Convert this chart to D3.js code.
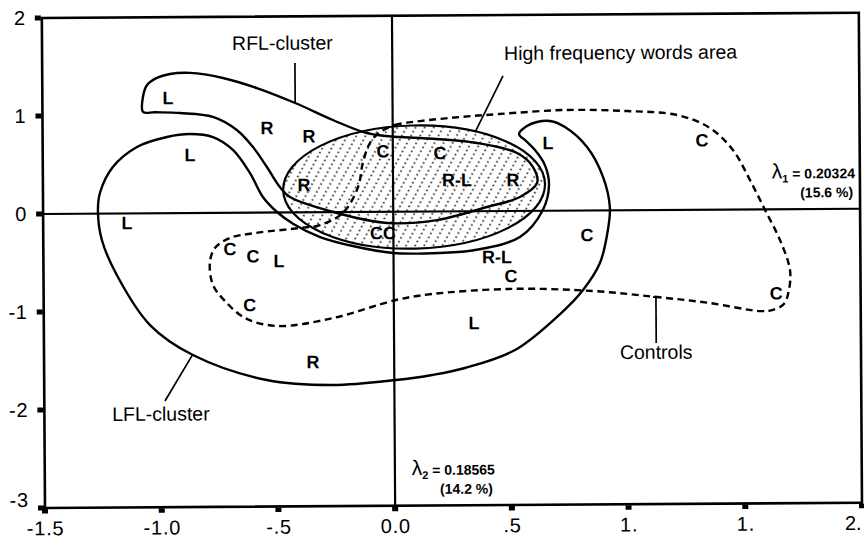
<!DOCTYPE html>
<html>
<head>
<meta charset="utf-8">
<script src="https://cdnjs.cloudflare.com/ajax/libs/d3/7.8.5/d3.min.js"></script>
<style>
  body { margin: 0; background: #fff; }
  svg { display: block; }
  text { font-family: "Liberation Sans", Arial, Helvetica, sans-serif; fill: #000; }
</style>
</head>
<body>
<svg id="chart" width="864" height="538"></svg>
<script>
// ---- axes ----
var xTicks = [-1.5, -1.0, -0.5, 0.0, 0.5, 1.0, 1.5, 2.0];
var xTickLabels = ['-1.5', '-1.0', '-.5', '0.0', '.5', '1.', '1.', '2.'];
var yTicks = [2, 1, 0, -1, -2, -3];
var yTickLabels = ['2', '1', '0', '-1', '-2', '-3'];

// ---- subject points (category letter, dim 1, dim 2) ----
var pointLabels = ['L', 'R', 'R', 'L', 'R', 'C', 'C', 'R-L', 'R', 'L', 'C', 'L',
                   'C', 'C', 'L', 'CC', 'R-L', 'C', 'C', 'C', 'L', 'R', 'C'];
var pointX = [-0.962, -0.539, -0.359, -0.869, -0.382, -0.042, 0.202, 0.274, 0.514, 0.665, 1.325, -1.141,
              -0.700, -0.602, -0.491, -0.045, 0.443, 0.503, 0.829, -0.617, 0.343, -0.348, 1.638];
var pointY = [1.176, 0.863, 0.778, 0.592, 0.279, 0.620, 0.596, 0.320, 0.316, 0.691, 0.711, -0.097,
              -0.369, -0.443, -0.495, -0.216, -0.468, -0.663, -0.250, -0.942, -1.141, -1.528, -0.855];

// ---- cluster outlines (hand traced, in axis units) ----
var rflContour = [
  [-1.069, 1.035], [-1.069, 1.188], [-1.051, 1.309], [-1.009, 1.381], [-0.953, 1.420], [-0.867, 1.430],
  [-0.726, 1.376], [-0.581, 1.271], [-0.417, 1.116], [-0.256, 0.940], [-0.125, 0.815], [-0.030, 0.773],
  [0.117, 0.751], [0.361, 0.696], [0.532, 0.591], [0.600, 0.447], [0.617, 0.284], [0.543, 0.142],
  [0.402, 0.042], [0.187, -0.088], [-0.027, -0.114], [-0.241, -0.009], [-0.442, 0.157], [-0.485, 0.260],
  [-0.540, 0.465], [-0.599, 0.669], [-0.668, 0.844], [-0.770, 0.979], [-0.911, 1.021], [-1.018, 1.031]
];
var lflContour = [
  [0.541, 0.785], [0.575, 0.866], [0.618, 0.906], [0.674, 0.915], [0.738, 0.853], [0.832, 0.648],
  [0.900, 0.340], [0.928, 0.034], [0.919, -0.201], [0.884, -0.537], [0.811, -0.811], [0.712, -1.055],
  [0.518, -1.419], [0.303, -1.599], [0.162, -1.668], [0.007, -1.717], [-0.263, -1.764], [-0.546, -1.709],
  [-0.862, -1.449], [-1.045, -1.140], [-1.186, -0.627], [-1.249, -0.269], [-1.265, 0.017], [-1.256, 0.211],
  [-1.200, 0.475], [-1.096, 0.678], [-0.967, 0.778], [-0.869, 0.806], [-0.770, 0.774], [-0.685, 0.641],
  [-0.613, 0.405], [-0.558, 0.159], [-0.498, 0.005], [-0.428, -0.118], [-0.314, -0.253], [-0.174, -0.347],
  [-0.002, -0.421], [0.199, -0.424], [0.349, -0.396], [0.542, -0.266], [0.641, 0.008], [0.668, 0.262],
  [0.651, 0.466], [0.609, 0.620], [0.571, 0.713]
];
var controlsContour = [
  [-0.054, 0.814], [0.010, 0.885], [0.117, 0.923], [0.288, 0.962], [0.456, 0.990], [0.739, 1.027],
  [1.004, 1.012], [1.219, 0.968], [1.359, 0.834], [1.457, 0.607], [1.529, 0.300], [1.593, -0.007],
  [1.656, -0.314], [1.698, -0.620], [1.693, -0.824], [1.671, -0.967], [1.620, -1.028], [1.569, -1.038],
  [1.354, -0.952], [1.128, -0.888], [0.853, -0.822], [0.506, -0.795], [0.164, -0.842], [0.009, -0.901],
  [-0.261, -1.081], [-0.501, -1.158], [-0.638, -1.074], [-0.723, -0.900], [-0.774, -0.736], [-0.787, -0.511],
  [-0.765, -0.358], [-0.700, -0.257], [-0.593, -0.208], [-0.400, -0.160], [-0.314, -0.131], [-0.216, -0.009],
  [-0.150, 0.255], [-0.129, 0.499], [-0.098, 0.703]
];
// high frequency words area: ellipse centre / half axes
var hfwCenter = [0.090, 0.251];
var hfwRadii = [0.561, 0.628];

// ---- callouts ----
var calloutLabels = ['RFL-cluster', 'High frequency words area', 'LFL-cluster', 'Controls'];
var calloutX = [-0.686, 0.479, -1.210, 0.967];
var calloutY = [1.661, 1.541, -2.117, -1.518];
var pointerFrom = [[-0.417, 1.524], [0.474, 1.378], [-0.983, -1.916], [1.123, -0.888]];
var pointerTo = [[-0.417, 1.116], [0.353, 0.808], [-0.862, -1.439], [1.123, -1.357]];

// ---- eigenvalues ----
var eigenIndex = ['1', '2'];
var eigenValues = ['0.20324', '0.18565'];
var eigenShare = ['(15.6 %)', '(14.2 %)'];
var eigenX = [1.979, 0.428];
var eigenY = [0.313, -2.688];

var svg = d3.select('#chart'),
    x = d3.scaleLinear().domain([-1.5, 2]).range([45, 862]),
    y = d3.scaleLinear().domain([2, -3]).range([18, 508]),
    x0 = x(0), y0 = y(0),
    scanTilt = -0.37;  // the printed figure sits slightly askew

var defs = svg.append('defs');
defs.append('pattern')
    .attr('id', 'hfw-dots')
    .attr('patternUnits', 'userSpaceOnUse')
    .attr('width', 8)
    .attr('height', 4.5)
    .attr('patternTransform', 'rotate(30)')
  .append('circle')
    .attr('cx', 4)
    .attr('cy', 2.25)
    .attr('r', 0.85)
    .attr('fill', '#000');

var plot = svg.append('g')
    .attr('transform', `rotate(${scanTilt} ${x(-1.5)} ${y(-3)})`);

// hatched ellipse first so every outline sits on top of it
var ecx = x(hfwCenter[0]), ecy = y(hfwCenter[1]);
plot.append('ellipse')
    .attr('cx', ecx)
    .attr('cy', ecy)
    .attr('rx', x(hfwCenter[0] + hfwRadii[0]) - ecx)
    .attr('ry', y(hfwCenter[1] - hfwRadii[1]) - ecy)
    .attr('transform', `rotate(-1.1 ${ecx} ${ecy})`)
    .attr('fill', 'url(#hfw-dots)')
    .attr('stroke', '#000')
    .attr('stroke-width', 2.2);

// zero lines
plot.append('line')
    .attr('x1', x(-1.5)).attr('x2', x(2))
    .attr('y1', y0).attr('y2', y0)
    .attr('stroke', '#000').attr('stroke-width', 2.2);
plot.append('line')
    .attr('x1', x0).attr('x2', x0)
    .attr('y1', y(2)).attr('y2', y(-3))
    .attr('stroke', '#000').attr('stroke-width', 2.2);

// cluster outlines
var outline = d3.line()
    .x(d => x(d[0]))
    .y(d => y(d[1]))
    .curve(d3.curveCatmullRomClosed.alpha(0.5));

[rflContour, lflContour].forEach(function (pts) {
  plot.append('path')
      .attr('d', outline(pts))
      .attr('fill', 'none')
      .attr('stroke', '#000')
      .attr('stroke-width', 2.4)
      .attr('stroke-linejoin', 'round');
});
plot.append('path')
    .attr('d', outline(controlsContour))
    .attr('fill', 'none')
    .attr('stroke', '#000')
    .attr('stroke-width', 2.4)
    .attr('stroke-dasharray', '7,4.5');

// frame
plot.append('rect')
    .attr('x', x(-1.5))
    .attr('y', y(2))
    .attr('width', x(2) - x(-1.5))
    .attr('height', y(-3) - y(2))
    .attr('fill', 'none')
    .attr('stroke', '#000')
    .attr('stroke-width', 2.6);

// axes: labels from d3.axis, square tick marks drawn alongside
var yAxis = plot.append('g')
    .attr('transform', `translate(${x(-1.5)},0)`)
    .call(d3.axisLeft(y).tickValues(yTicks).tickSize(0).tickPadding(16)
      .tickFormat((d, i) => yTickLabels[i]));
var xAxis = plot.append('g')
    .attr('transform', `translate(0,${y(-3)})`)
    .call(d3.axisBottom(x).tickValues(xTicks).tickSize(0).tickPadding(13)
      .tickFormat((d, i) => xTickLabels[i]));

[yAxis, xAxis].forEach(function (g) {
  g.select('.domain').remove();
  g.attr('font-family', null).attr('font-size', null);
  g.selectAll('text')
      .style('font-size', '20px')
      .style('letter-spacing', '0.8px');
});
// bottom-left label lifted clear of the x labels
yAxis.selectAll('.tick text').filter(d => d === -3).attr('dy', '-0.08em');
// last x label pulled inside the page edge
xAxis.selectAll('.tick text').filter(d => d === 2)
    .attr('text-anchor', 'end')
    .attr('x', -1)
    .style('letter-spacing', '0px');

plot.selectAll('rect.ytick')
    .data(yTicks)
  .enter().append('rect')
    .classed('ytick', true)
    .attr('x', x(-1.5) - 7)
    .attr('y', d => y(d) - 2.5)
    .attr('width', 6)
    .attr('height', 5)
    .attr('fill', '#000');
plot.selectAll('rect.xtick')
    .data(xTicks)
  .enter().append('rect')
    .classed('xtick', true)
    .attr('x', d => x(d) - 3)
    .attr('y', y(-3) + 1)
    .attr('width', 6)
    .attr('height', 4.5)
    .attr('fill', '#000');

// subject letters
plot.selectAll('text.pt')
    .data(pointLabels)
  .enter().append('text')
    .classed('pt', true)
    .attr('x', (d, i) => x(pointX[i]))
    .attr('y', (d, i) => y(pointY[i]))
    .attr('dy', 6.3)
    .attr('text-anchor', 'middle')
    .style('font-size', '18px')
    .style('font-weight', 'bold')
    .text(d => d);

// callouts with pointer lines
calloutLabels.forEach(function (label, i) {
  plot.append('line')
      .attr('x1', x(pointerFrom[i][0])).attr('y1', y(pointerFrom[i][1]))
      .attr('x2', x(pointerTo[i][0])).attr('y2', y(pointerTo[i][1]))
      .attr('stroke', '#000').attr('stroke-width', 1.7);
  plot.append('text')
      .attr('x', x(calloutX[i]))
      .attr('y', y(calloutY[i]))
      .style('font-size', '19.5px')
      .text(label);
});
// small cap on the "Controls" pointer
plot.append('line')
    .attr('x1', x(pointerFrom[3][0]) - 3).attr('x2', x(pointerFrom[3][0]) + 3)
    .attr('y1', y(pointerFrom[3][1])).attr('y2', y(pointerFrom[3][1]))
    .attr('stroke', '#000').attr('stroke-width', 1.7);

// eigenvalue notes
eigenIndex.forEach(function (k, i) {
  var t = plot.append('text')
      .attr('x', x(eigenX[i]))
      .attr('y', y(eigenY[i]))
      .attr('text-anchor', 'end');
  t.append('tspan').style('font-size', '21px').text('\u03bb');
  t.append('tspan').style('font-size', '11px').style('font-weight', 'bold')
      .attr('dy', 4).text(k);
  t.append('tspan').style('font-size', '14px').style('font-weight', 'bold')
      .attr('dy', -4).text(' = ' + eigenValues[i]);
  plot.append('text')
      .attr('x', x(eigenX[i]) - 2)
      .attr('y', y(eigenY[i]) + 19)
      .attr('text-anchor', 'end')
      .style('font-size', '14px')
      .style('font-weight', 'bold')
      .text(eigenShare[i]);
});
</script>
</body>
</html>
